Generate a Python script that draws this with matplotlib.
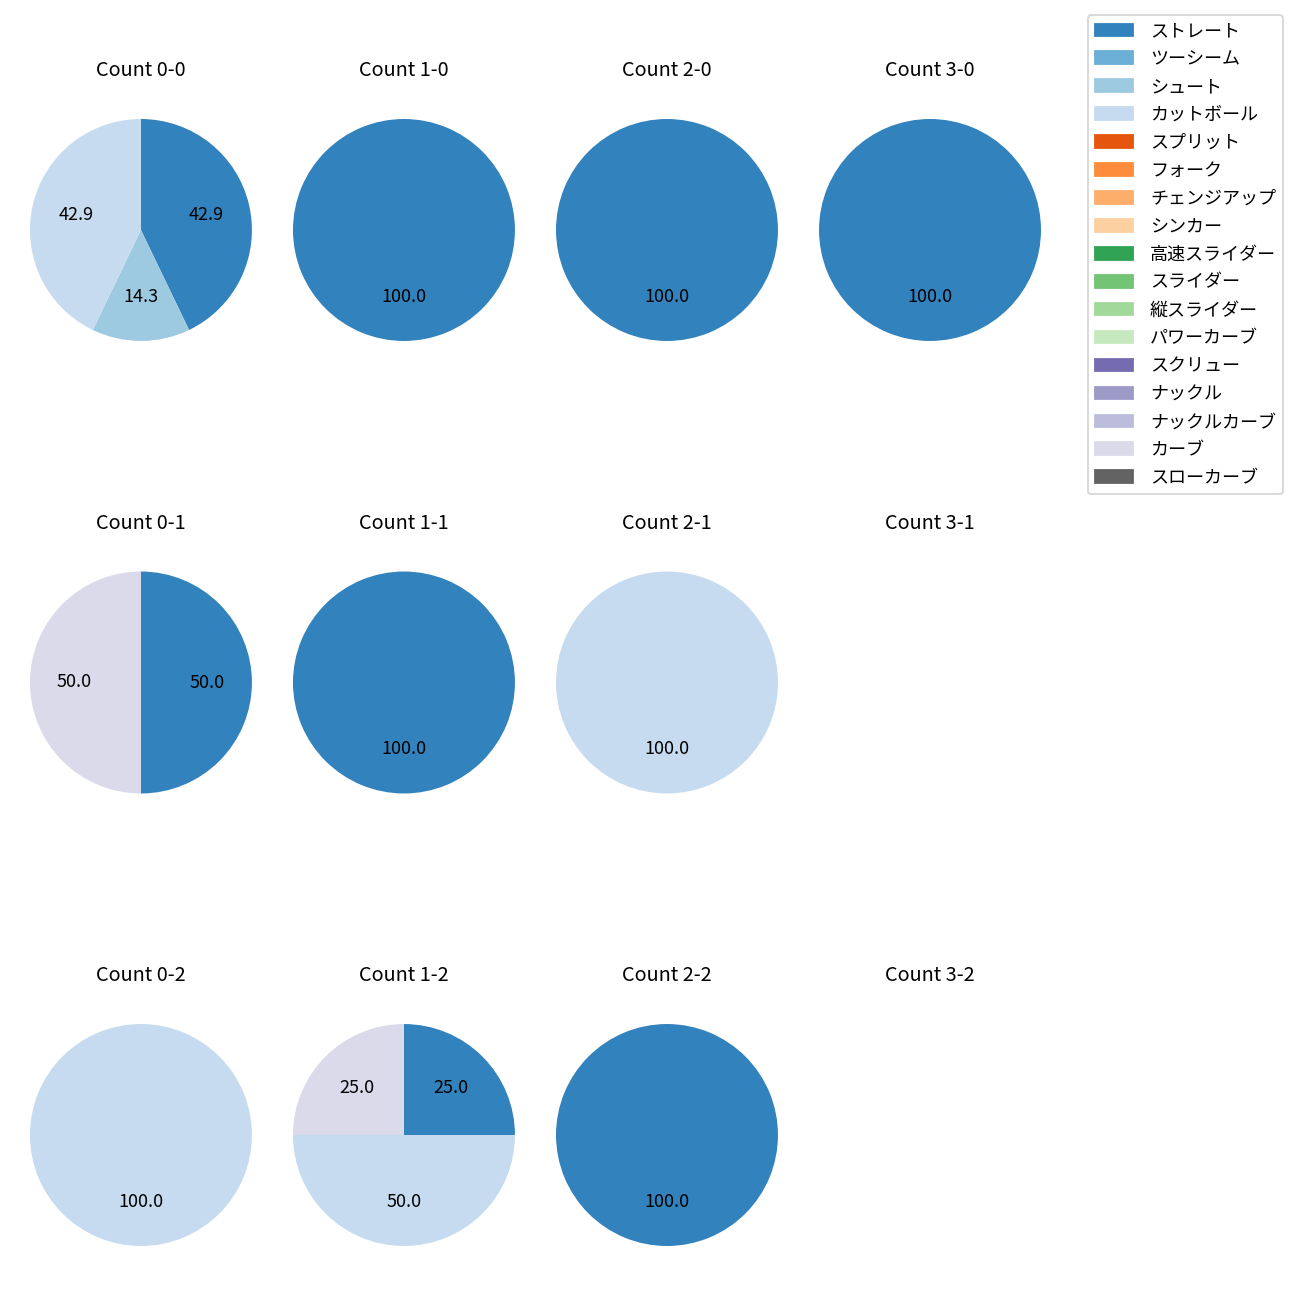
import matplotlib
matplotlib.use("Agg")
import matplotlib.pyplot as plt
import matplotlib.patches as mpatches

plt.rcParams['font.family'] = ['Noto Sans CJK JP', 'DejaVu Sans']

pitch_types = ["ストレート", "ツーシーム", "シュート", "カットボール", "スプリット", "フォーク",
               "チェンジアップ", "シンカー", "高速スライダー", "スライダー", "縦スライダー",
               "パワーカーブ", "スクリュー", "ナックル", "ナックルカーブ", "カーブ", "スローカーブ"]
cmap = plt.get_cmap("tab20c")
pitch_colors = [cmap(i) for i in range(len(pitch_types))]

# pitch counts per ball-strike count (only non-zero types)
counts = {
    "0-0": {"ストレート": 3, "シュート": 1, "カットボール": 3},
    "1-0": {"ストレート": 1},
    "2-0": {"ストレート": 1},
    "3-0": {"ストレート": 1},
    "0-1": {"ストレート": 1, "カーブ": 1},
    "1-1": {"ストレート": 1},
    "2-1": {"カットボール": 1},
    "3-1": {},
    "0-2": {"カットボール": 1},
    "1-2": {"ストレート": 1, "カットボール": 2, "カーブ": 1},
    "2-2": {"ストレート": 1},
    "3-2": {},
}

fig, axes = plt.subplots(3, 4, figsize=(10, 10), dpi=130)
fig.subplots_adjust(left=0.0017, right=0.8221, top=0.9385, bottom=0.0115,
                    wspace=-0.052, hspace=0.508)
for strikes in range(3):
    for balls in range(4):
        ax = axes[strikes][balls]
        key = f"{balls}-{strikes}"
        d = counts[key]
        ax.set_title(f"Count {key}", fontsize=11, pad=8.2)
        if d:
            vals = [d[p] for p in pitch_types if p in d]
            cols = [pitch_colors[i] for i, p in enumerate(pitch_types) if p in d]
            ax.pie(vals, colors=cols, autopct="%.1f", startangle=90, counterclock=False,
                   textprops={"fontsize": 10})
        else:
            ax.set_aspect("equal")
            ax.axis("off")

handles = [mpatches.Patch(color=c, label=p) for p, c in zip(pitch_types, pitch_colors)]
fig.legend(handles=handles, loc="upper right", bbox_to_anchor=(0.987, 0.9885),
           borderaxespad=0, fontsize=10, labelspacing=0.55, handletextpad=0.95,
           handlelength=2.1)
plt.savefig("out.png")
